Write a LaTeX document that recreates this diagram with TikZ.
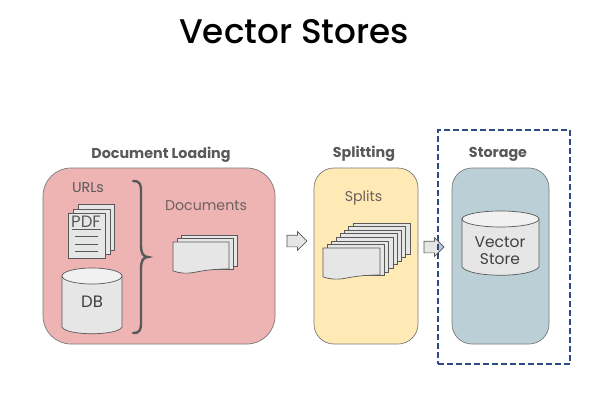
\documentclass[tikz,border=0pt]{standalone}
\usepackage{fontspec}
\setmainfont{Poppins}
\newfontfamily\titlefont{Poppins Medium}
\usetikzlibrary{shapes.arrows}
\definecolor{edgeg}{HTML}{595959}
\definecolor{sheet}{HTML}{E6E6E6}
\definecolor{pinkf}{HTML}{EEB3B3}
\definecolor{yellowf}{HTML}{FFE9B5}
\definecolor{bluef}{HTML}{BBD0D6}
\definecolor{dashb}{HTML}{2F4B86}
\definecolor{headc}{HTML}{595959}
\definecolor{lightc}{HTML}{6E6060}
\tikzset{
  x=1pt,y=-1pt,
  panel/.style={draw=edgeg!80,line width=0.7pt},
  sheetline/.style={draw=edgeg,fill=sheet,line width=0.7pt},
  heading/.style={font=\bfseries\fontsize{14.3}{16}\selectfont,text=headc,inner sep=0pt},
  label/.style={font=\fontsize{14.2}{16}\selectfont,text=headc,inner sep=0pt,align=center},
  blockarrow/.style={shape=single arrow,draw=edgeg,fill=sheet,line width=0.7pt,inner xsep=0pt,inner ysep=5.5pt,
    single arrow head extend=3.5pt,single arrow tip angle=90,
    minimum height=20pt,anchor=center},
  pics/docsheet/.style args={#1/#2}{code={
    \path[sheetline] (0,0) -- (#1,0) -- (#1,#2*0.87)
      .. controls (#1*0.72,#2*0.87) and (#1*0.55,#2*0.92) .. (#1*0.38,#2*0.98)
      .. controls (#1*0.22,#2*1.03) and (#1*0.1,#2) .. (0,#2*0.93) -- cycle;
  }},
  pics/plainsheet/.style args={#1/#2}{code={
    \path[sheetline] (0,0) rectangle (#1,#2);
  }}
}
\begin{document}
\begin{tikzpicture}
\useasboundingbox (0,0) rectangle (613,404);
\fill[white] (0,0) rectangle (613,404);

\node[inner sep=0pt,font=\titlefont\fontsize{34.2}{38}\selectfont,text=black] (title) at (294,32) {Vector Stores};

% panels
\path[panel,fill=pinkf,rounded corners=28pt] (43,168) rectangle (275,344);
\path[panel,fill=yellowf,rounded corners=20pt] (314,168) rectangle (418,344);
\path[panel,fill=bluef,rounded corners=20pt] (452,168) rectangle (549,344);

\node[heading] (h1) at (161,155) {Document Loading};
\node[heading] (h2) at (364,154) {Splitting};
\node[heading] (h3) at (498,154) {Storage};

\node[label] (urls) at (88,187.5) {URLs};
\node[label,text=lightc] (docs) at (206,205.5) {Documents};
\node[label,text=lightc] (splits) at (363.5,197.5) {Splits};

% PDF stack
\path[sheetline] (78,204) rectangle (114,250);
\path[sheetline] (73,209) rectangle (110,254);
\path[sheetline] (68,213) rectangle (105,258);
\node[font=\fontsize{16.5}{18}\selectfont,text=edgeg,inner sep=0pt] (pdf) at (86,222) {PDF};
\draw[edgeg,line width=0.7pt] (72,229) -- (101,229)
  (75,236) -- (98,236) (75,244) -- (98,244) (75,251) -- (98,251);

% DB cylinder
\path[sheetline] (62,276) -- (62,327) .. controls (66,336) and (118,336) .. (122,327) -- (122,276) -- cycle;
\path[draw=edgeg,fill=sheet!55,line width=0.7pt] (92,276) ellipse [x radius=30,y radius=8];
\node[font=\fontsize{16.5}{18}\selectfont,text=black!75,inner sep=0pt] (db) at (92,302) {DB};

% brace
\draw[edgeg,line width=2.4pt,line cap=round] (133,181)
  .. controls (140,181) and (141,184) .. (141,192)
  -- (141,245) .. controls (141,253) and (143,257) .. (148,257)
  .. controls (143,257) and (141,261) .. (141,269)
  -- (141,322) .. controls (141,330) and (140,333) .. (133,333);

% documents
\pic at (181,235) {plainsheet=56/31};
\pic at (177,238.5) {plainsheet=56/31};
\pic at (173,242) {docsheet=56/31};

% splits
\foreach \i in {7,6,...,1}{
  \pic at ({323+\i*4.3},{248-\i*3.55}) {plainsheet=57/31};
}
\pic at (323,248) {docsheet=57/31};

% vector store
\path[sheetline] (462,219) -- (462,267) .. controls (470,278) and (531,278) .. (539,267) -- (539,219) -- cycle;
\path[draw=edgeg,fill=sheet!55,line width=0.7pt] (500.5,219) ellipse [x radius=38.5,y radius=8];
\node[label,font=\fontsize{15.5}{17}\selectfont,text=black!75] (vs) at (500,251) {Vector\\Store};

% arrows
\node[blockarrow] (a1) at (294,241) {};
\node[blockarrow] (a2) at (431,247) {};
\begin{scope}
\clip (438,230) rectangle (450,264);
\node[blockarrow,fill=dashb!30] at (431,247) {};
\end{scope}

% dashed storage box
\node[draw=dashb,line width=1.7pt,dash pattern=on 6pt off 3pt,minimum width=132pt,minimum height=234pt,inner sep=0pt] (store) at (504,247) {};
\end{tikzpicture}
\end{document}
